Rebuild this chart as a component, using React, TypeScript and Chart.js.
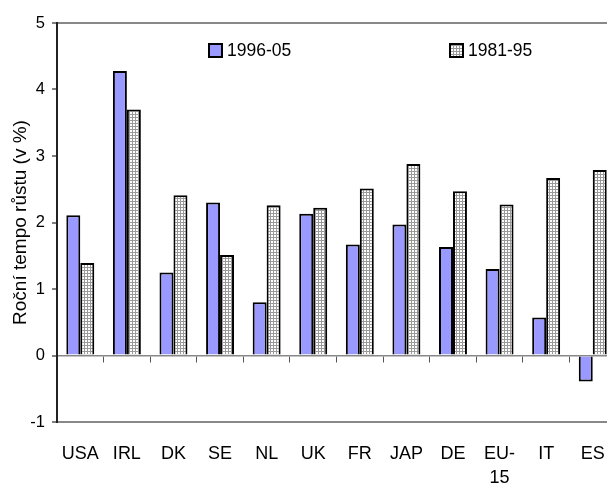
import React, { useEffect, useRef } from 'react';
import { Chart, registerables } from 'chart.js';

Chart.register(...registerables);

const categories: (string | string[])[] = ['USA', 'IRL', 'DK', 'SE', 'NL', 'UK', 'FR', 'JAP', 'DE', ['EU-', '15'], 'IT', 'ES'];
const series1996 = [2.11, 4.28, 1.25, 2.3, 0.8, 2.13, 1.67, 1.97, 1.63, 1.3, 0.57, -0.39];
const series1981 = [1.39, 3.7, 2.41, 1.51, 2.26, 2.22, 2.51, 2.88, 2.47, 2.27, 2.67, 2.79];
const seriesNames = ['1996-05', '1981-95'];
const yMin = -1;
const yMax = 5;
const yStep = 1;
const yTitle = 'Roční tempo růstu (v %)';

const FONT = '"Liberation Sans", Arial, sans-serif';

function makePattern(): CanvasPattern | string {
  const c = document.createElement('canvas');
  c.width = 3;
  c.height = 3;
  const g = c.getContext('2d');
  if (!g) return '#d0d0d0';
  g.fillStyle = '#9a9a9a';
  g.fillRect(0, 0, 3, 3);
  g.fillStyle = '#ffffff';
  g.fillRect(1, 1, 2, 2);
  return g.createPattern(c, 'repeat') || '#d0d0d0';
}

const legendPlugin = {
  id: 'insideLegend',
  afterDraw(chart: any) {
    const ctx: CanvasRenderingContext2D = chart.ctx;
    const spots = [
      { x: 209, y: 44 },
      { x: 450, y: 44 },
    ];
    ctx.save();
    chart.data.datasets.forEach((ds: any, i: number) => {
      const p = spots[i];
      if (!p) return;
      ctx.fillStyle = ds.backgroundColor;
      ctx.fillRect(p.x, p.y, 13, 13);
      ctx.lineWidth = 2;
      ctx.strokeStyle = '#000';
      ctx.strokeRect(p.x, p.y, 13, 13);
      ctx.fillStyle = '#000';
      ctx.font = `17.5px ${FONT}`;
      ctx.textBaseline = 'middle';
      ctx.textAlign = 'left';
      ctx.fillText(ds.label, p.x + 18, p.y + 7);
    });
    ctx.restore();
  },
};

export default function App() {
  const ref = useRef<HTMLCanvasElement | null>(null);

  useEffect(() => {
    const canvas = ref.current;
    if (!canvas) return;
    const pattern = makePattern();
    const chart = new Chart(canvas, {
      type: 'bar',
      data: {
        labels: categories as any,
        datasets: [
          {
            label: seriesNames[0],
            data: series1996,
            backgroundColor: '#9999ff',
            borderColor: '#000000',
            borderWidth: 2,
            categoryPercentage: 0.6,
            barPercentage: 1.0,
            xAxisID: 'x',
          },
          {
            label: seriesNames[1],
            data: series1981,
            backgroundColor: pattern as any,
            borderColor: '#000000',
            borderWidth: 2,
            categoryPercentage: 0.6,
            barPercentage: 1.0,
            xAxisID: 'x',
          },
        ],
      },
      options: {
        responsive: false,
        animation: false,
        devicePixelRatio: 1,
        layout: { padding: { top: 23, right: 6, left: 0, bottom: 0 } },
        plugins: {
          legend: { display: false },
          tooltip: { enabled: false },
        },
        scales: {
          x: {
            type: 'category',
            position: 'bottom',
            offset: true,
            grid: { display: false, drawTicks: false, offset: true },
            border: { display: false },
            ticks: {
              color: '#000',
              font: { family: FONT, size: 18, lineHeight: 1.35 },
              padding: 20,
              maxRotation: 0,
              minRotation: 0,
              autoSkip: false,
            },
            afterFit: (s: any) => {
              s.height = 65;
            },
          },
          x2: {
            type: 'category',
            position: { y: 0 } as any,
            offset: true,
            grid: {
              display: true,
              drawOnChartArea: false,
              drawTicks: true,
              tickLength: 6,
              offset: true,
              color: '#666',
              tickColor: '#555',
            },
            border: { display: true, color: '#888', width: 1.5 },
            ticks: { display: false },
          },
          y: {
            min: yMin,
            max: yMax,
            ticks: {
              stepSize: yStep,
              color: '#000',
              font: { family: FONT, size: 16.5 },
              padding: 7,
            },
            grid: {
              drawTicks: true,
              tickLength: 5,
              color: (c: any) =>
                c.tick && (c.tick.value === yMax || c.tick.value === yMin) ? '#888' : 'rgba(0,0,0,0)',
              lineWidth: 2,
              tickColor: '#555',
              tickWidth: 1.5,
            },
            border: { display: true, color: '#222', width: 2 },
            title: {
              display: true,
              text: yTitle,
              color: '#000',
              font: { family: FONT, size: 19 },
              padding: { top: 9, bottom: 0 },
            },
            afterFit: (s: any) => {
              s.width = 57;
            },
          },
        },
      },
      plugins: [legendPlugin],
    });
    return () => chart.destroy();
  }, []);

  return (
    <div
      style={{
        position: 'fixed',
        left: 0,
        top: 0,
        width: 607,
        height: 487,
        overflow: 'hidden',
        background: '#fff',
      }}
    >
      <canvas ref={ref} width={625} height={487} style={{ display: 'block' }} />
    </div>
  );
}
